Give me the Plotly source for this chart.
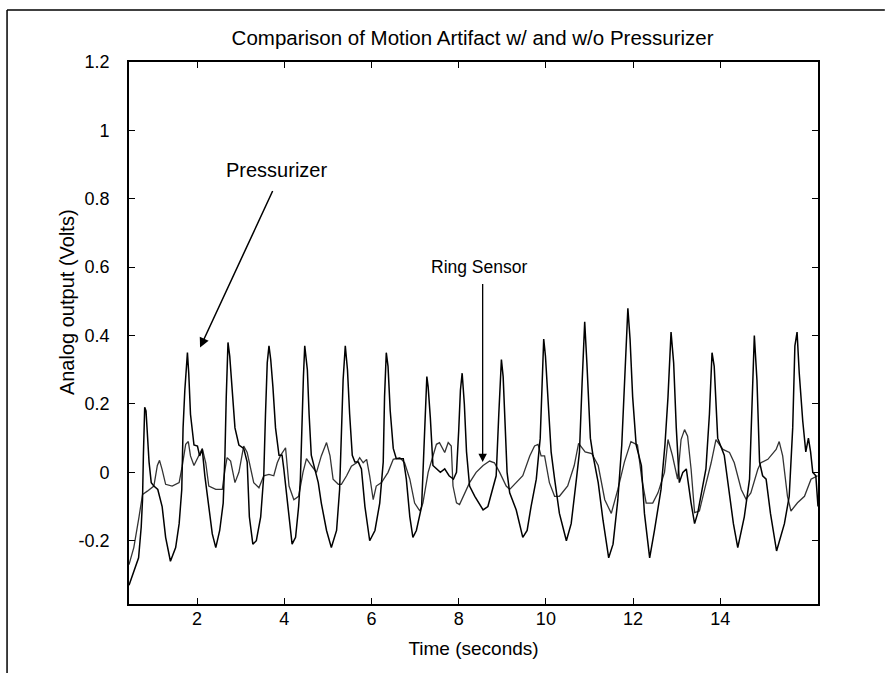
import plotly.graph_objects as go

# Pressurizer signal (sharp peaks)
p_t = [0.44, 0.55, 0.66, 0.72, 0.75, 0.77, 0.80, 0.83, 0.86, 0.90, 0.95, 1.01, 1.10, 1.20, 1.28, 1.39,
       1.51, 1.59, 1.65, 1.68, 1.72, 1.78, 1.81, 1.85, 1.93, 2.01, 2.06, 2.12, 2.18, 2.27, 2.35, 2.43,
       2.52, 2.60, 2.64, 2.67, 2.71, 2.75, 2.81, 2.87, 2.96, 3.07, 3.15, 3.20, 3.28, 3.36, 3.46, 3.53,
       3.57, 3.61, 3.65, 3.69, 3.74, 3.80, 3.88, 3.95, 3.99, 4.07, 4.18, 4.26, 4.33, 4.37, 4.40, 4.44,
       4.47, 4.53, 4.57, 4.62, 4.70, 4.78, 4.85, 4.97, 5.08, 5.20, 5.27, 5.31, 5.35, 5.40, 5.45, 5.50,
       5.56, 5.62, 5.70, 5.77, 5.85, 5.96, 6.08, 6.19, 6.27, 6.30, 6.34, 6.38, 6.43, 6.50, 6.57, 6.65,
       6.73, 6.80, 6.88, 6.95, 7.03, 7.15, 7.22, 7.27, 7.30, 7.35, 7.41, 7.49, 7.58, 7.68, 7.78, 7.88,
       7.95, 8.00, 8.04, 8.08, 8.13, 8.18, 8.25, 8.37, 8.56, 8.67, 8.79, 8.86, 8.92, 8.98, 9.02, 9.06,
       9.11, 9.17, 9.32, 9.47, 9.57, 9.66, 9.78, 9.87, 9.92, 9.95, 9.99, 10.05, 10.12, 10.20, 10.31, 10.47,
       10.58, 10.70, 10.77, 10.83, 10.89, 10.94, 11.02, 11.08, 11.20, 11.31, 11.44, 11.54, 11.65, 11.74, 11.80, 11.88,
       11.93, 11.99, 12.07, 12.19, 12.26, 12.38, 12.49, 12.64, 12.73, 12.80, 12.87, 12.93, 12.99, 13.06, 13.14, 13.22,
       13.33, 13.41, 13.48, 13.58, 13.67, 13.75, 13.81, 13.86, 13.94, 14.09, 14.20, 14.30, 14.40, 14.55, 14.67, 14.72,
       14.78, 14.84, 14.90, 14.97, 15.05, 15.15, 15.29, 15.47, 15.58, 15.66, 15.71, 15.76, 15.81, 15.89, 15.96, 16.02,
       16.07, 16.12, 16.19, 16.24]
p_v = [-0.33, -0.29, -0.25, -0.16, -0.08, 0.05, 0.19, 0.18, 0.12, 0.03, -0.03, -0.04, -0.05, -0.10, -0.19, -0.26,
       -0.22, -0.15, -0.05, 0.13, 0.24, 0.35, 0.29, 0.17, 0.08, 0.077, 0.048, 0.067, -0.011, -0.11, -0.18, -0.22,
       -0.17, -0.09, 0.05, 0.22, 0.38, 0.34, 0.22, 0.13, 0.08, 0.07, 0.03, -0.13, -0.21, -0.20, -0.13, -0.01,
       0.17, 0.32, 0.37, 0.33, 0.25, 0.13, 0.05, 0.05, 0.01, -0.09, -0.21, -0.19, -0.10, -0.02, 0.13, 0.28,
       0.37, 0.30, 0.17, 0.05, 0.01, -0.03, -0.09, -0.17, -0.22, -0.17, -0.05, 0.13, 0.27, 0.37, 0.30, 0.17,
       0.05, 0.03, 0.03, 0.01, -0.10, -0.20, -0.17, -0.09, 0.03, 0.22, 0.35, 0.31, 0.18, 0.07, 0.04, 0.04,
       0.04, -0.02, -0.13, -0.19, -0.17, -0.10, 0.13, 0.28, 0.25, 0.16, 0.02, 0.01, 0.0, 0.01, -0.01, -0.02,
       0.0, 0.12, 0.24, 0.29, 0.20, 0.06, -0.04, -0.07, -0.11, -0.10, -0.04, -0.01, 0.17, 0.33, 0.28, 0.13,
       0.0, -0.06, -0.11, -0.19, -0.17, -0.10, -0.02, 0.10, 0.30, 0.39, 0.34, 0.22, 0.06, -0.02, -0.12, -0.20,
       -0.15, -0.02, 0.06, 0.26, 0.44, 0.32, 0.10, 0.05, -0.03, -0.14, -0.25, -0.21, -0.08, 0.08, 0.27, 0.48,
       0.39, 0.22, 0.08, 0.02, -0.12, -0.25, -0.17, -0.05, 0.08, 0.22, 0.41, 0.32, 0.13, -0.03, 0.0, 0.01,
       -0.09, -0.15, -0.12, -0.05, 0.01, 0.17, 0.35, 0.31, 0.10, 0.05, -0.05, -0.15, -0.22, -0.13, -0.02, 0.17,
       0.40, 0.27, 0.03, -0.01, -0.02, -0.12, -0.23, -0.15, -0.07, 0.13, 0.37, 0.41, 0.29, 0.15, 0.06, 0.10,
       0.06, 0.0, -0.01, -0.10]

# Ring sensor signal (smaller, wavy)
r_t = [0.44, 0.55, 0.67, 0.75, 0.86, 1.01, 1.09, 1.14, 1.20, 1.28, 1.43, 1.59, 1.66, 1.74, 1.80, 1.85,
       1.93, 2.04, 2.12, 2.20, 2.27, 2.43, 2.58, 2.64, 2.69, 2.77, 2.87, 2.96, 3.07, 3.15, 3.23, 3.30,
       3.42, 3.53, 3.65, 3.76, 3.84, 3.91, 4.03, 4.11, 4.22, 4.33, 4.43, 4.51, 4.62, 4.74, 4.85, 4.97,
       5.05, 5.12, 5.24, 5.31, 5.43, 5.54, 5.66, 5.73, 5.81, 5.89, 5.96, 6.04, 6.11, 6.23, 6.38, 6.50,
       6.65, 6.76, 6.88, 6.99, 7.11, 7.18, 7.30, 7.41, 7.49, 7.56, 7.68, 7.76, 7.83, 7.87, 7.95, 8.02,
       8.15, 8.25, 8.40, 8.56, 8.71, 8.82, 8.94, 9.09, 9.17, 9.32, 9.47, 9.63, 9.74, 9.82, 9.89, 9.97,
       10.08, 10.20, 10.31, 10.50, 10.65, 10.75, 10.90, 11.05, 11.20, 11.35, 11.50, 11.65, 11.80, 11.95, 12.10, 12.20,
       12.30, 12.45, 12.57, 12.72, 12.80, 12.90, 13.02, 13.10, 13.18, 13.25, 13.33, 13.41, 13.52, 13.64, 13.79, 13.90,
       14.06, 14.21, 14.32, 14.48, 14.59, 14.70, 14.86, 14.93, 15.09, 15.28, 15.35, 15.43, 15.54, 15.62, 15.77, 15.93,
       16.08, 16.23]
r_v = [-0.27, -0.22, -0.13, -0.065, -0.055, -0.04, 0.02, 0.035, 0.008, -0.035, -0.04, -0.03, 0.018, 0.082, 0.09, 0.048,
       0.02, 0.048, 0.07, 0.028, -0.04, -0.05, -0.05, 0.008, 0.043, 0.033, -0.03, 0.0, 0.077, 0.058, 0.008, -0.03,
       -0.045, -0.01, -0.006, -0.01, 0.028, 0.048, 0.072, -0.04, -0.08, -0.07, 0.0, 0.04, 0.02, 0.0, 0.048, 0.087,
       0.048, -0.02, -0.035, -0.035, -0.01, 0.018, 0.028, 0.043, 0.028, 0.038, -0.011, -0.08, -0.04, -0.03, 0.0, 0.038,
       0.043, 0.028, -0.02, -0.09, -0.113, -0.09, 0.0, 0.048, 0.082, 0.087, 0.058, 0.087, 0.077, -0.04, -0.089, -0.094,
       -0.06, -0.03, 0.0, 0.02, 0.033, 0.028, 0.0, -0.04, -0.05, -0.03, -0.01, 0.048, 0.077, 0.082, 0.048, 0.048,
       -0.03, -0.07, -0.07, -0.04, 0.02, 0.085, 0.06, 0.055, 0.02, -0.08, -0.12, -0.05, 0.03, 0.09, 0.08, -0.02,
       -0.09, -0.09, -0.06, 0.0, 0.096, 0.05, -0.02, 0.096, 0.125, 0.106, 0.009, -0.118, -0.113, -0.05, 0.028, 0.096,
       0.067, 0.058, 0.028, -0.05, -0.079, -0.06, 0.009, 0.028, 0.038, 0.067, 0.09, 0.048, -0.07, -0.113, -0.089, -0.07,
       -0.02, -0.01]

x_ticks = [2, 4, 6, 8, 10, 12, 14]
y_ticks = [-0.2, 0, 0.2, 0.4, 0.6, 0.8, 1.0, 1.2]
y_tick_text = ["-0.2", "0", "0.2", "0.4", "0.6", "0.8", "1", "1.2"]

FONT = "Liberation Sans, Arial, sans-serif"

fig = go.Figure()
fig.add_trace(go.Scatter(x=r_t, y=r_v, mode="lines", name="Ring Sensor",
                         line=dict(color="#333333", width=1.3)))
fig.add_trace(go.Scatter(x=p_t, y=p_v, mode="lines", name="Pressurizer",
                         line=dict(color="#000000", width=1.5)))

fig.add_annotation(x=2.07, y=0.365, ax=3.75, ay=0.827, xref="x", yref="y", axref="x", ayref="y",
                   text="", showarrow=True, arrowhead=2, arrowsize=1.3, arrowwidth=1.5, arrowcolor="black")
fig.add_annotation(x=3.83, y=0.885, xref="x", yref="y", text="Pressurizer", showarrow=False,
                   font=dict(family=FONT, size=20, color="black"))
fig.add_annotation(x=8.55, y=0.03, ax=8.55, ay=0.555, xref="x", yref="y", axref="x", ayref="y",
                   text="", showarrow=True, arrowhead=2, arrowsize=1.3, arrowwidth=1.3, arrowcolor="black")
fig.add_annotation(x=8.47, y=0.60, xref="x", yref="y", text="Ring Sensor", showarrow=False,
                   font=dict(family=FONT, size=17.5, color="black"))
# y-axis title (placed like the original, slightly above the axis centre)
fig.add_annotation(x=-0.09, y=0.557, xref="paper", yref="paper", text="Analog output (Volts)",
                   textangle=-90, showarrow=False, xanchor="center", yanchor="middle",
                   font=dict(family=FONT, size=20, color="black"))

# scanned page frame
fig.add_shape(type="line", xref="paper", yref="paper", x0=-0.177, x1=1.097, y0=1.096, y1=1.096,
              line=dict(color="black", width=1.5))
fig.add_shape(type="line", xref="paper", yref="paper", x0=-0.177, x1=-0.177, y0=1.096, y1=-0.13,
              line=dict(color="black", width=1.5))

fig.update_layout(
    width=890, height=673,
    margin=dict(l=129, r=72, t=62, b=69),
    paper_bgcolor="white", plot_bgcolor="white",
    showlegend=False,
    font=dict(family=FONT, size=18, color="black"),
    title=dict(text="Comparison of Motion Artifact w/ and w/o Pressurizer",
               x=0.531, xanchor="center", y=0.944, yanchor="middle",
               font=dict(family=FONT, size=20.5, color="black")),
)
fig.update_xaxes(range=[0.44, 16.24], tickvals=x_ticks, ticks="inside", ticklen=6, tickcolor="black",
                 showline=True, linecolor="black", linewidth=1.8, mirror="ticks", showgrid=False,
                 zeroline=False, ticklabelstandoff=-3,
                 title=dict(text="Time (seconds)", standoff=14, font=dict(family=FONT, size=19)),
                 tickfont=dict(family=FONT, size=18))
fig.update_yaxes(range=[-0.385, 1.2], tickvals=y_ticks, ticktext=y_tick_text, ticks="inside", ticklen=6,
                 tickcolor="black", showline=True, linecolor="black", linewidth=1.8, mirror="ticks",
                 showgrid=False, zeroline=False, ticklabelstandoff=14,
                 tickfont=dict(family=FONT, size=18))

fig.write_html("out.html")
